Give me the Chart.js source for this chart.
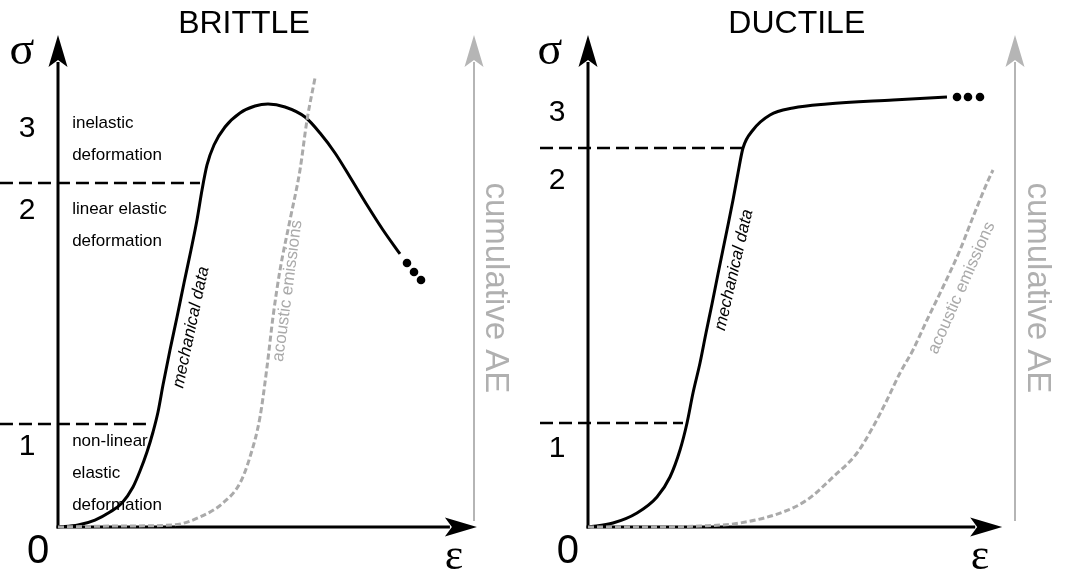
<!DOCTYPE html>
<html><head><meta charset="utf-8">
<script src="https://cdn.jsdelivr.net/npm/chart.js@4.4.1/dist/chart.umd.min.js"></script>
<style>
html,body{margin:0;padding:0;background:#fff;width:1065px;height:572px;overflow:hidden}
#cl{position:absolute;left:0;top:0}
#cr{position:absolute;left:532px;top:0}
</style></head><body>
<canvas id="cl" width="532" height="572"></canvas>
<canvas id="cr" width="533" height="572"></canvas>
<script>
// ---------- DATA (strain 0-100, stress / cumulative AE 0-100, schematic units) ----------
const brittleMechStrain = [0,4.81,8.89,12.50,15.38,18.03,19.71,21.39,22.84,24.04,25.24,26.92,28.61,30.29,31.97,33.41,34.62,35.82,37.50,40.14,43.75,47.36,50.48,54.57,59.38,62.98,66.59,70.19,74.28,78.13,82.21];
const brittleMechStress = [0,0.41,1.42,3.05,4.88,8.13,11.38,15.24,19.31,23.37,28.86,35.98,42.68,49.59,56.30,62.40,68.50,73.58,77.64,81.30,84.15,85.57,85.98,85.37,83.33,80.08,76.02,71.14,65.45,60.37,55.49];
const brittleDotsStrain = [83.89,85.58,87.26];
const brittleDotsStress = [53.66,51.83,50.20];
const brittleAEStrain = [0,14.90,27.64,34.13,39.66,43.75,46.15,48.56,50.24,51.68,53.37,55.77,58.17,59.86,61.78];
const brittleAEValue  = [0,0.20,0.41,2.03,4.88,8.94,14.23,22.36,32.52,42.68,52.24,62.40,72.56,82.72,91.26];
const brittleThresholdStress = [20.93,69.92];
const brittleThresholdEnd = [22.12,34.13];
const brittleRegionNums = ['1','2','3'];
const brittleRegionNumY = [16.3,64.2,80.9];
const brittleRegionText = [['non-linear','elastic','deformation'],['linear elastic','deformation'],['inelastic','deformation']];
const brittleRegionTextY = [17.48,64.63,82.11];

const ductileMechStrain = [0,5.85,11.48,16.16,19.20,21.55,23.19,24.59,26.23,27.63,29.04,30.44,32.55,33.96,35.13,36.30,38.64,42.62,48.01,55.97,71.43,84.07];
const ductileMechStress = [0,0.81,2.85,6.10,10.16,15.65,21.14,27.24,33.33,39.43,45.33,51.42,60.37,66.46,71.95,77.03,80.69,83.74,85.16,85.98,86.79,87.40];
const ductileDotsStrain = [86.42,88.99,91.80];
const ductileDotsStress = [87.40,87.40,87.40];
const ductileAEStrain = [0,14.52,26.23,35.60,45.67,51.29,57.38,63.00,66.74,70.02,73.07,76.11,79.39,83.14,87.12,90.16,93.44,94.85];
const ductileAEValue  = [0,0,0.20,0.81,3.05,5.49,10.16,15.04,20.33,25.81,31.30,35.98,42.07,48.78,56.30,63.01,69.92,72.56];
const ductileThresholdStress = [21.14,77.03];
const ductileThresholdEnd = [22.25,36.30];
const ductileRegionNums = ['1','2','3'];
const ductileRegionNumY = [15.9,70.3,84.3];

const titles = ['BRITTLE','DUCTILE'];
const curveLabels = ['mechanical data','acoustic emissions'];
const rightAxisLabel = 'cumulative AE';

// ---------- helpers ----------
const SANS = '"Liberation Sans", Arial, sans-serif';
const SERIF = '"Liberation Serif", "Times New Roman", serif';
const zip = (xs, ys) => xs.map((v,i)=>({x:v,y:ys[i]}));

function arrowUp(ctx, x, tipY, color){
  ctx.fillStyle = color;
  ctx.beginPath();
  ctx.moveTo(x, tipY);
  ctx.lineTo(x-9.5, tipY+32);
  ctx.lineTo(x, tipY+25);
  ctx.lineTo(x+9.5, tipY+32);
  ctx.closePath(); ctx.fill();
}
function arrowRight(ctx, tipX, y, color){
  ctx.fillStyle = color;
  ctx.beginPath();
  ctx.moveTo(tipX, y);
  ctx.lineTo(tipX-32, y-9.5);
  ctx.lineTo(tipX-25, y);
  ctx.lineTo(tipX-32, y+9.5);
  ctx.closePath(); ctx.fill();
}
function txt(ctx, s, x, y, font, color, align, base, rot){
  ctx.save();
  ctx.font = font; ctx.fillStyle = color;
  ctx.textAlign = align || 'center'; ctx.textBaseline = base || 'middle';
  ctx.translate(x, y);
  if (rot) ctx.rotate(rot);
  ctx.fillText(s, 0, 0);
  ctx.restore();
}

const decor = {
  id: 'decor',
  beforeDatasetsDraw(chart, args, o){
    const {ctx, scales:{x, y}} = chart;
    const x0 = x.getPixelForValue(0), y0 = y.getPixelForValue(0);
    const yTop = y.getPixelForValue(100);
    const gx = x.getPixelForValue(100);
    const xTip = x.getPixelForValue(o.xAxisEnd);
    ctx.save();
    ctx.strokeStyle = '#b5b5b5'; ctx.lineWidth = 2;
    ctx.beginPath(); ctx.moveTo(gx, y0-6); ctx.lineTo(gx, yTop+27); ctx.stroke();
    arrowUp(ctx, gx, yTop, '#b5b5b5');
    ctx.strokeStyle = '#000'; ctx.lineWidth = 3;
    ctx.beginPath(); ctx.moveTo(x0, y0+1.5); ctx.lineTo(x0, yTop+27); ctx.stroke();
    arrowUp(ctx, x0, yTop, '#000');
    ctx.beginPath(); ctx.moveTo(x0-1.5, y0); ctx.lineTo(xTip-27, y0); ctx.stroke();
    arrowRight(ctx, xTip, y0, '#000');
    ctx.restore();
  },
  afterDraw(chart, args, o){
    const {ctx, scales:{x, y}} = chart;
    const px = v => x.getPixelForValue(v), py = v => y.getPixelForValue(v);
    txt(ctx, o.title, px(o.titleX), 24, '32px '+SANS, '#000');
    txt(ctx, 'σ', px(o.sigmaX), py(96.5), '46px '+SERIF, '#000');
    txt(ctx, 'ε', px(o.epsX), py(-6.1), '44px '+SERIF, '#000');
    txt(ctx, '0', px(o.zeroX), py(-5.1), '40px '+SANS, '#000');
    o.nums.forEach((n,i)=> txt(ctx, n, px(o.numX), py(o.numY[i]), '30px '+SANS, '#000'));
    if (o.regionText){
      o.regionText.forEach((lines,i)=>{
        lines.forEach((s,j)=>{
          txt(ctx, s, px(3.4), py(o.regionTextY[i]) + j*32, '17px '+SANS, '#000', 'left', 'middle');
        });
      });
    }
    txt(ctx, curveLabels[0], px(o.mechLbl[0]), py(o.mechLbl[1]), 'italic 17px '+SANS, '#000', 'center','middle', o.mechLbl[2]*Math.PI/180);
    txt(ctx, curveLabels[1], px(o.aeLbl[0]), py(o.aeLbl[1]), '17px '+SANS, '#aaaaaa', 'center','middle', o.aeLbl[2]*Math.PI/180);
    txt(ctx, rightAxisLabel, px(o.cumX), py(48.6), '33px '+SANS, '#b0b0b0', 'center','middle', Math.PI/2);
  }
};

function makeChart(id, d, pad, o){
  const thr = d.thrY.map((lv,i)=>({
    data:[{x:d.thrStart,y:lv},{x:d.thrEnd[i],y:lv}],
    borderColor:'#000', borderWidth:2.5, borderDash:[13,6], pointRadius:0, clip:false, tension:0
  }));
  return new Chart(document.getElementById(id), {
    type:'line',
    data:{datasets:[
      ...thr,
      {data:zip(d.aeX,d.aeY), borderColor:'#aaaaaa', borderWidth:3, borderDash:[6,3], pointRadius:0, cubicInterpolationMode:'monotone', clip:false},
      {data:zip(d.mx,d.my), borderColor:'#000', borderWidth:3, pointRadius:0, cubicInterpolationMode:'monotone', clip:false},
      {data:zip(d.dx,d.dy), showLine:false, pointRadius:4.3, pointBackgroundColor:'#000', pointBorderWidth:0, clip:false}
    ]},
    options:{
      responsive:false, animation:false, devicePixelRatio:1,
      layout:{padding:pad},
      scales:{
        x:{type:'linear', min:0, max:100, display:false},
        y:{type:'linear', min:0, max:100, display:false}
      },
      plugins:{legend:{display:false}, tooltip:{enabled:false}, title:{display:false}, decor:o},
      events:[]
    },
    plugins:[decor]
  });
}

makeChart('cl', {
  mx:brittleMechStrain, my:brittleMechStress, dx:brittleDotsStrain, dy:brittleDotsStress,
  aeX:brittleAEStrain, aeY:brittleAEValue, thrY:brittleThresholdStress, thrEnd:brittleThresholdEnd, thrStart:-13.95
}, {left:58, right:58, top:35, bottom:45}, {
  title:titles[0], titleX:44.7, sigmaX:-8.65, epsX:95.2, zeroX:-4.8, numX:-7.45,
  nums:brittleRegionNums, numY:brittleRegionNumY, regionText:brittleRegionText, regionTextY:brittleRegionTextY,
  mechLbl:[32.0,40.6,-78], aeLbl:[55.2,48.0,-82.4], cumX:105.05, xAxisEnd:100.7
});

makeChart('cr', {
  mx:ductileMechStrain, my:ductileMechStress, dx:ductileDotsStrain, dy:ductileDotsStress,
  aeX:ductileAEStrain, aeY:ductileAEValue, thrY:ductileThresholdStress, thrEnd:ductileThresholdEnd, thrStart:-11.24
}, {left:56, right:50, top:35, bottom:45}, {
  title:titles[1], titleX:48.9, sigmaX:-8.9, epsX:91.8, zeroX:-4.7, numX:-7.26,
  nums:ductileRegionNums, numY:ductileRegionNumY, regionText:null,
  mechLbl:[34.2,52.24,-77], aeLbl:[87.5,48.58,-66], cumX:105.15, xAxisEnd:97.0
});
</script>
</body></html>
